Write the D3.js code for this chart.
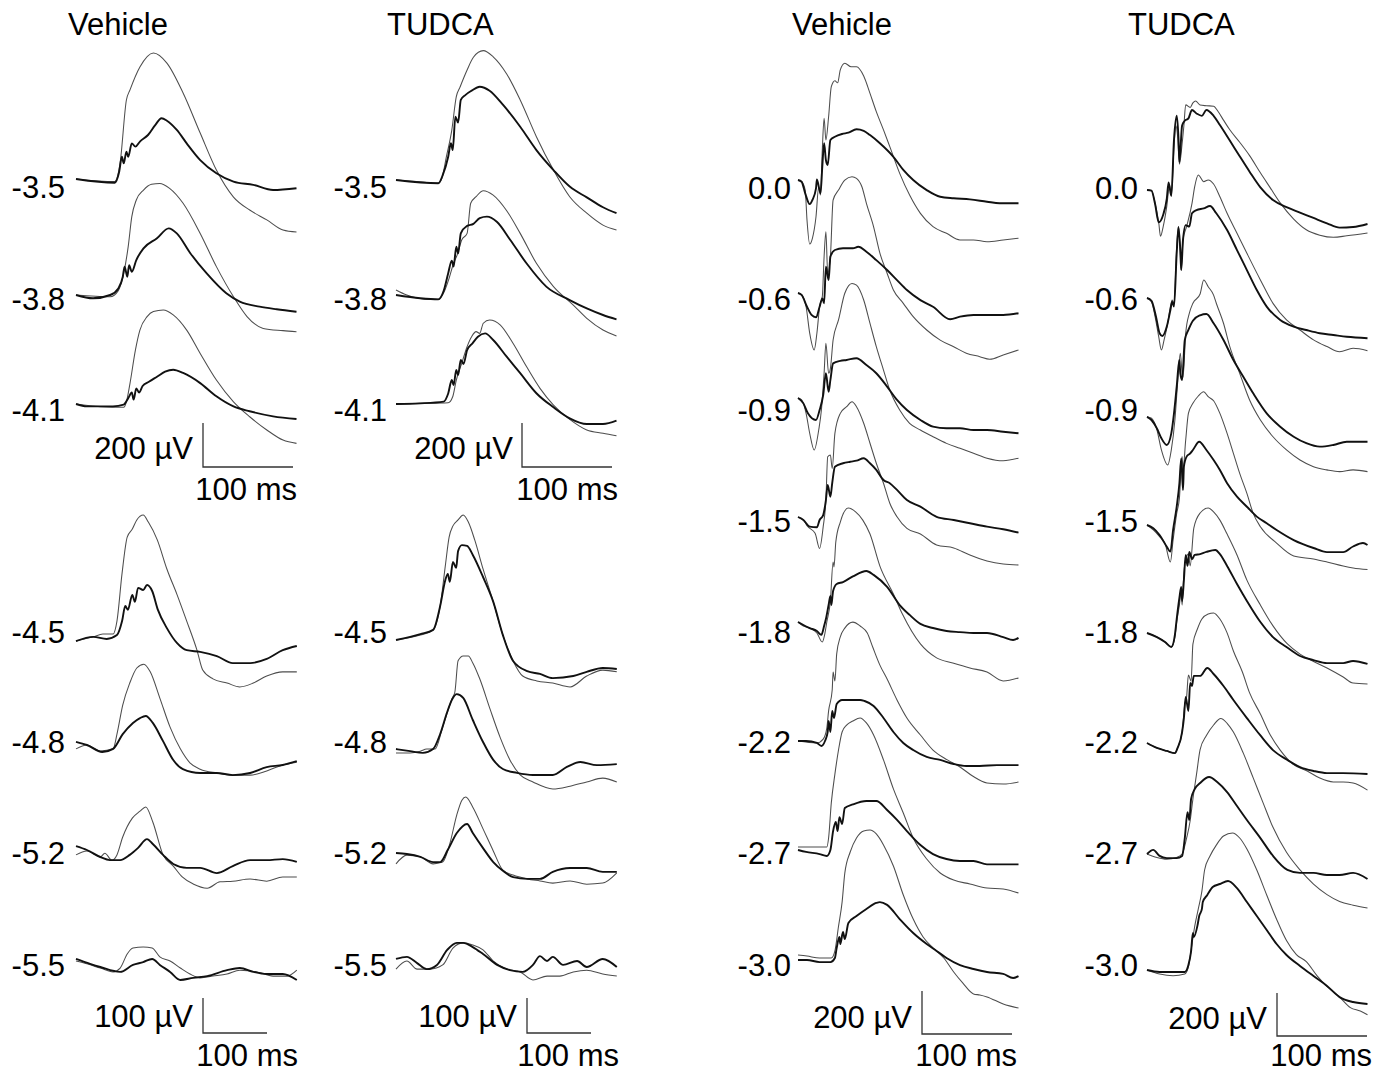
<!DOCTYPE html>
<html><head><meta charset="utf-8">
<script src="https://cdn.jsdelivr.net/npm/d3@7"></script>
<style>body{margin:0;background:#fff}svg{display:block}</style>
</head><body>
<svg id="chart" width="1390" height="1074"></svg>
<script>
// ---------- DATA (time in ms from trace start, amplitude in µV) ----------
const levelsA = ["-3.5","-3.8","-4.1"];
const levelsB = ["-4.5","-4.8","-5.2","-5.5"];
const levelsC = ["0.0","-0.6","-0.9","-1.5","-1.8","-2.2","-2.7","-3.0"];
const titles = ["Vehicle","TUDCA","Vehicle","TUDCA"];

const vehA_thin = [
 [[0,0],[43,-12],[49,73],[56,359],[60,405],[71,509],[86,573],[101,527],[119,391],[138,209],[156,41],[175,-82],[193,-141],[212,-186],[230,-232],[245,-241]],
 [[0,0],[38,-8],[47,20],[53,98],[58,220],[62,356],[67,432],[75,477],[84,503],[93,507],[104,485],[119,417],[138,280],[156,129],[175,-8],[190,-98],[208,-152],[230,-162],[245,-167]],
 [[0,0],[27,-12],[53,-15],[56,10],[60,94],[66,245],[71,336],[79,397],[86,420],[97,427],[108,405],[123,336],[138,230],[156,109],[175,10],[193,-58],[212,-118],[230,-164],[245,-179]]
];
const vehA_thick = [
 [[0,0],[43,-17],[48,33],[51,101],[53,71],[56,124],[58,101],[62,162],[66,147],[71,170],[80,200],[88,245],[95,276],[101,265],[112,223],[123,162],[138,86],[156,26],[175,-12],[197,-27],[219,-50],[245,-42]],
 [[0,0],[19,-15],[38,0],[47,30],[52,83],[54,129],[57,83],[59,136],[62,106],[67,159],[75,212],[90,258],[103,303],[112,280],[127,190],[145,99],[167,8],[182,-30],[204,-53],[223,-65],[245,-76]],
 [[0,0],[12,-11],[41,-11],[53,-3],[58,26],[62,52],[64,20],[67,71],[70,52],[74,82],[81,101],[90,124],[99,147],[108,156],[119,141],[138,95],[156,35],[175,-11],[193,-33],[219,-56],[245,-68]]
];
const tudA_thin = [
 [[0,0],[27,-8],[47,-15],[51,8],[56,106],[62,227],[67,379],[71,421],[79,500],[86,558],[97,588],[108,560],[123,482],[138,364],[156,197],[175,45],[193,-76],[212,-151],[230,-205],[245,-227]],
 [[0,14],[12,-9],[38,-29],[47,-29],[53,1],[59,67],[64,135],[68,173],[73,241],[79,271],[83,408],[89,438],[97,465],[108,445],[123,374],[138,271],[156,135],[175,29],[197,-55],[212,-115],[230,-168],[245,-195]],
 [[0,0],[27,3],[58,6],[63,33],[67,109],[73,185],[79,261],[84,306],[89,329],[93,321],[97,367],[104,382],[116,359],[130,276],[145,170],[160,71],[175,-5],[193,-70],[212,-118],[230,-133],[245,-144]]
];
const tudA_thick = [
 [[0,0],[47,-15],[52,23],[58,106],[61,167],[63,136],[66,288],[69,261],[72,364],[77,386],[84,406],[93,424],[104,406],[119,341],[138,242],[156,136],[175,45],[193,-30],[212,-79],[230,-124],[245,-151]],
 [[0,-9],[27,-24],[47,-29],[53,10],[58,90],[62,147],[64,120],[67,210],[69,180],[72,271],[79,305],[86,314],[93,340],[101,347],[112,324],[127,241],[145,135],[167,29],[193,-32],[212,-70],[230,-100],[245,-120]],
 [[0,0],[27,3],[53,11],[58,48],[62,109],[64,86],[67,155],[69,132],[72,200],[75,182],[79,245],[85,276],[91,306],[99,321],[108,291],[123,215],[138,140],[156,49],[175,-15],[193,-65],[212,-91],[230,-91],[245,-76]]
];

const vehB_thin = [
 [[0,-3],[27,9],[42,17],[58,17],[64,54],[72,191],[80,294],[88,317],[95,343],[105,357],[113,337],[127,286],[142,203],[158,129],[173,54],[189,-29],[198,-86],[214,-111],[236,-123],[256,-134],[277,-123],[298,-103],[323,-91],[345,-91]],
 [[0,-11],[17,0],[38,-17],[58,-11],[64,31],[73,114],[84,177],[95,220],[106,231],[116,209],[131,134],[147,51],[163,-11],[178,-51],[194,-69],[220,-80],[245,-86],[272,-86],[298,-74],[323,-57],[345,-49]],
 [[0,-14],[17,-3],[38,-20],[45,-9],[56,-29],[64,-14],[73,37],[88,91],[100,111],[109,123],[120,80],[136,-14],[152,-46],[166,-77],[183,-97],[205,-109],[225,-91],[245,-89],[272,-83],[298,-89],[323,-77],[345,-77]],
 [[0,-3],[17,-11],[38,-23],[58,-34],[69,-23],[80,17],[89,34],[105,37],[119,34],[131,9],[147,-3],[163,-23],[178,-40],[194,-51],[214,-46],[236,-40],[256,-29],[283,-34],[308,-46],[330,-46],[345,-29]]
];
const vehB_thick = [
 [[0,-3],[27,9],[48,3],[64,14],[72,54],[77,97],[81,86],[88,129],[92,109],[97,149],[105,143],[111,157],[119,140],[128,86],[142,34],[158,-9],[173,-29],[194,-34],[220,-46],[245,-66],[272,-66],[298,-54],[323,-29],[345,-17]],
 [[0,9],[17,0],[41,-20],[58,-11],[73,31],[89,63],[100,77],[109,83],[120,63],[136,11],[152,-43],[167,-69],[194,-80],[220,-80],[245,-86],[272,-80],[298,-63],[323,-57],[345,-46]],
 [[0,11],[17,0],[38,-20],[53,-29],[69,-29],[84,-14],[97,6],[111,31],[120,17],[136,-14],[152,-40],[173,-51],[194,-51],[220,-66],[245,-46],[272,-29],[298,-29],[323,-26],[345,-34]],
 [[0,3],[22,-11],[38,-20],[69,-34],[89,-14],[105,-6],[119,3],[131,-14],[147,-34],[163,-57],[183,-51],[205,-46],[236,-29],[256,-23],[277,-34],[298,-40],[323,-40],[345,-57]]
];
const tudB_thin = [
 [[0,0],[38,14],[58,29],[69,97],[77,211],[83,294],[89,326],[97,343],[105,357],[113,337],[123,286],[136,203],[152,109],[167,14],[183,-60],[198,-103],[220,-117],[245,-123],[272,-134],[298,-103],[323,-86],[345,-91]],
 [[0,-14],[22,-14],[38,-9],[48,-3],[61,-3],[73,60],[88,143],[92,160],[97,249],[105,263],[113,263],[120,243],[131,197],[147,111],[163,29],[178,-34],[194,-77],[214,-97],[245,-117],[272,-109],[298,-97],[323,-86],[345,-97]],
 [[0,-31],[17,-6],[38,-11],[58,-31],[73,-26],[84,26],[95,109],[103,151],[109,160],[120,131],[136,69],[152,6],[167,-49],[183,-63],[205,-74],[225,-80],[245,-86],[272,-80],[298,-89],[323,-86],[345,-57]],
 [[0,-26],[17,-3],[33,-26],[53,-26],[73,-14],[89,34],[105,49],[120,43],[136,29],[152,-3],[173,-26],[194,-34],[214,-57],[236,-46],[256,-46],[277,-34],[298,-29],[323,-40],[345,-46]]
];
const tudB_thick = [
 [[0,0],[38,17],[58,29],[69,97],[77,171],[81,189],[84,166],[89,223],[94,206],[97,254],[103,271],[111,269],[120,243],[136,180],[152,109],[167,14],[183,-60],[205,-89],[225,-97],[245,-109],[277,-103],[298,-91],[323,-80],[345,-83]],
 [[0,-3],[22,-9],[42,-14],[58,-3],[69,40],[80,103],[88,140],[95,154],[105,143],[120,80],[136,17],[152,-34],[167,-60],[189,-71],[214,-77],[245,-77],[267,-54],[288,-40],[314,-49],[345,-46]],
 [[0,0],[17,-3],[38,-11],[58,-26],[69,-26],[81,9],[95,57],[111,83],[120,57],[136,14],[152,-26],[167,-51],[183,-69],[205,-74],[225,-74],[245,-54],[272,-43],[298,-43],[323,-54],[345,-54]],
 [[0,3],[17,9],[33,-9],[48,-26],[64,-14],[80,29],[95,49],[105,49],[120,37],[136,17],[158,-14],[178,-29],[198,-34],[214,-14],[225,11],[236,-3],[245,9],[261,-14],[283,-3],[298,-20],[323,3],[345,-20]]
];

const vehC_thin = [
 [[0,0],[4,-8],[8,-47],[10,-186],[13,-298],[16,-271],[20,-171],[23,-31],[25,-70],[27,140],[29,287],[31,186],[34,294],[37,434],[41,462],[44,452],[47,512],[52,543],[59,527],[65,527],[73,484],[80,403],[87,318],[95,233],[102,155],[113,31],[124,-70],[136,-155],[150,-217],[165,-248],[180,-279],[195,-279],[210,-287],[228,-279],[245,-271]],
 [[0,0],[4,-9],[9,-64],[13,-187],[18,-265],[21,-187],[24,-64],[27,-17],[29,169],[31,285],[33,92],[36,169],[39,432],[45,479],[52,525],[60,541],[65,533],[71,494],[76,417],[84,308],[91,185],[99,92],[106,14],[117,-48],[128,-110],[143,-172],[158,-219],[173,-250],[187,-280],[202,-296],[213,-308],[228,-288],[245,-265]],
 [[0,0],[4,-9],[9,-71],[13,-164],[18,-242],[23,-149],[26,-56],[29,115],[31,254],[34,115],[36,138],[39,270],[45,363],[52,487],[60,533],[65,525],[73,456],[80,347],[87,239],[95,130],[102,37],[113,-56],[124,-118],[136,-149],[150,-180],[165,-211],[180,-234],[195,-257],[210,-280],[228,-292],[245,-280]],
 [[0,0],[6,-14],[11,-45],[19,-76],[24,-146],[28,-45],[31,79],[33,280],[36,288],[38,226],[41,389],[47,482],[54,513],[60,536],[65,513],[73,436],[80,343],[87,250],[95,157],[102,64],[110,1],[121,-53],[136,-79],[154,-130],[173,-144],[191,-177],[210,-205],[228,-219],[245,-223]],
 [[0,0],[6,-19],[13,-28],[21,-51],[27,-93],[30,-51],[32,0],[36,98],[39,279],[40,256],[42,372],[47,465],[56,530],[64,512],[72,474],[80,409],[91,260],[106,130],[116,37],[136,-102],[154,-167],[172,-191],[191,-214],[210,-233],[228,-274],[245,-260]],
 [[0,0],[21,-9],[28,9],[32,60],[34,140],[38,237],[39,321],[41,279],[43,405],[47,484],[52,525],[61,553],[69,535],[77,502],[83,437],[91,353],[99,288],[110,191],[121,107],[136,28],[150,-42],[166,-88],[180,-121],[194,-163],[210,-195],[228,-200],[245,-191]],
 [[0,14],[32,14],[34,56],[37,219],[41,353],[45,465],[49,549],[54,581],[61,600],[69,614],[76,591],[84,535],[95,419],[106,284],[117,172],[128,56],[143,-42],[158,-107],[173,-140],[191,-158],[210,-177],[228,-181],[245,-200]],
 [[0,14],[10,9],[24,0],[37,0],[41,33],[45,147],[49,260],[52,395],[58,493],[65,558],[73,591],[80,595],[87,577],[95,526],[106,428],[117,293],[128,181],[139,98],[150,47],[162,0],[173,-65],[183,-116],[195,-167],[202,-172],[210,-181],[228,-214],[245,-233]]
];
const vehC_thick = [
 [[0,0],[4,-8],[8,-62],[13,-112],[16,-93],[20,-39],[21,3],[25,-62],[27,62],[29,171],[31,93],[33,70],[36,186],[41,201],[49,214],[56,220],[65,236],[73,229],[80,209],[91,171],[106,108],[117,47],[128,0],[143,-47],[158,-78],[173,-85],[191,-90],[210,-101],[224,-108],[245,-108]],
 [[0,0],[4,-9],[10,-64],[15,-102],[20,-113],[24,-64],[27,-25],[29,-48],[31,122],[34,60],[36,169],[41,200],[50,208],[61,208],[67,215],[76,192],[87,153],[99,107],[110,60],[121,14],[136,-33],[150,-64],[169,-122],[180,-110],[195,-102],[210,-102],[228,-102],[245,-94]],
 [[0,0],[6,-25],[11,-71],[20,-102],[24,-56],[28,14],[31,115],[34,29],[36,84],[39,161],[47,173],[54,177],[65,185],[76,153],[87,115],[99,53],[110,-9],[121,-56],[136,-102],[150,-133],[165,-141],[180,-141],[195,-149],[210,-149],[228,-157],[245,-164]],
 [[0,0],[6,-14],[13,-45],[21,-48],[24,-14],[28,9],[31,79],[33,149],[36,94],[38,157],[41,234],[50,250],[58,257],[65,262],[73,273],[80,250],[87,219],[95,172],[102,157],[110,126],[121,79],[136,48],[154,1],[173,-14],[191,-29],[210,-45],[228,-57],[245,-73]],
 [[0,0],[6,-14],[13,-28],[21,-42],[26,-60],[29,-19],[31,14],[34,79],[36,121],[37,79],[39,144],[43,177],[50,186],[61,212],[76,237],[84,219],[99,163],[113,79],[124,33],[136,-9],[150,-28],[165,-42],[180,-47],[195,-51],[210,-51],[228,-70],[239,-84],[245,-74]],
 [[0,0],[9,0],[21,-9],[26,-23],[30,0],[33,42],[34,93],[36,42],[38,140],[40,107],[43,172],[49,191],[58,191],[69,191],[74,186],[84,163],[95,107],[106,42],[117,-9],[128,-42],[143,-74],[158,-88],[173,-107],[187,-116],[202,-116],[221,-112],[245,-112]],
 [[0,0],[9,-9],[24,-19],[32,-28],[36,0],[39,88],[42,130],[44,88],[46,153],[49,121],[52,195],[61,212],[76,228],[87,228],[99,186],[110,140],[121,88],[136,23],[150,-19],[165,-42],[180,-51],[195,-51],[210,-67],[228,-67],[245,-67]],
 [[0,-9],[10,-9],[24,-19],[36,-19],[41,0],[43,47],[46,98],[47,65],[50,121],[52,88],[56,163],[65,195],[76,228],[87,256],[91,260],[99,247],[113,181],[128,116],[143,65],[154,33],[165,0],[180,-33],[195,-51],[210,-65],[228,-74],[239,-93],[245,-84]]
];
const tudC_thin = [
 [[0,0],[5,-3],[9,-62],[13,-150],[15,-215],[18,-170],[22,-75],[25,22],[27,-26],[30,200],[32,300],[34,250],[36,120],[39,215],[41,300],[43,396],[48,384],[51,405],[54,414],[59,395],[66,392],[74,390],[79,365],[85,325],[92,280],[103,222],[114,160],[126,80],[137,10],[148,-60],[163,-135],[177,-185],[192,-210],[207,-220],[222,-213],[245,-200]],
 [[0,0],[5,-17],[9,-87],[13,-180],[16,-242],[19,-195],[23,-118],[26,-40],[28,-9],[30,-25],[33,239],[35,332],[37,208],[38,130],[40,270],[44,332],[50,440],[53,518],[57,572],[63,541],[68,549],[74,530],[81,471],[89,394],[100,301],[111,208],[126,84],[140,-25],[155,-102],[170,-149],[185,-195],[200,-226],[214,-250],[229,-234],[245,-245]],
 [[0,1],[5,-6],[11,-60],[16,-153],[23,-223],[27,-153],[31,-14],[34,157],[37,296],[39,203],[40,185],[43,389],[47,482],[51,529],[59,572],[63,637],[68,606],[74,567],[77,529],[85,436],[92,327],[103,203],[114,79],[126,-14],[140,-92],[155,-153],[170,-200],[185,-231],[200,-246],[214,-254],[229,-246],[245,-254]],
 [[0,0],[7,-23],[14,-54],[20,-85],[26,-172],[29,-70],[33,54],[36,124],[39,318],[40,256],[43,395],[46,519],[51,566],[57,600],[63,620],[68,597],[74,578],[81,519],[89,426],[96,333],[103,240],[111,147],[118,54],[126,-8],[144,-84],[163,-144],[185,-158],[200,-172],[218,-191],[229,-200],[245,-207]],
 [[0,0],[11,-19],[20,-42],[27,-65],[31,-19],[33,51],[36,130],[38,195],[39,130],[41,279],[43,344],[46,367],[48,312],[52,488],[59,558],[68,581],[74,563],[81,525],[89,460],[100,363],[111,246],[126,130],[140,33],[156,-51],[170,-98],[184,-130],[200,-163],[218,-205],[229,-233],[245,-237]],
 [[0,0],[11,-23],[22,-37],[31,-47],[34,-23],[39,51],[42,181],[44,214],[46,316],[49,288],[51,460],[56,530],[61,577],[68,600],[74,605],[81,577],[89,512],[96,428],[106,330],[114,233],[126,135],[137,37],[148,-33],[162,-98],[178,-130],[192,-163],[207,-181],[218,-181],[229,-186],[245,-219]],
 [[0,0],[11,-16],[22,-24],[33,-16],[39,0],[44,74],[48,156],[51,255],[55,370],[59,485],[66,551],[74,600],[82,630],[89,608],[96,567],[107,469],[118,354],[129,238],[140,124],[155,8],[170,-74],[185,-140],[200,-189],[214,-221],[229,-238],[245,-251]],
 [[0,0],[14,-19],[29,-27],[42,-19],[46,14],[50,121],[53,203],[57,284],[61,367],[64,465],[70,530],[77,581],[85,623],[95,637],[103,614],[111,563],[122,465],[133,349],[144,236],[155,137],[166,72],[177,39],[189,-27],[200,-76],[214,-126],[226,-175],[237,-191],[245,-208]]
];
const tudC_thick = [
 [[0,0],[5,-3],[9,-65],[13,-150],[18,-115],[22,-40],[24,35],[27,-28],[30,235],[33,345],[35,240],[36,130],[39,300],[42,322],[46,333],[50,372],[55,356],[61,345],[66,372],[74,345],[81,302],[92,230],[103,157],[114,85],[126,12],[140,-47],[155,-80],[170,-105],[185,-130],[200,-155],[214,-175],[229,-172],[245,-158]],
 [[0,0],[5,-13],[10,-87],[14,-164],[17,-177],[22,-133],[26,-56],[28,-17],[30,-40],[33,208],[35,329],[37,223],[38,130],[40,270],[43,339],[47,332],[50,394],[55,409],[63,417],[70,428],[77,394],[89,316],[100,223],[111,130],[122,37],[133,-40],[148,-102],[163,-133],[177,-149],[192,-164],[207,-172],[222,-180],[245,-187]],
 [[0,1],[5,-14],[11,-53],[16,-99],[22,-130],[27,-76],[30,17],[33,141],[36,265],[37,203],[39,172],[42,358],[46,405],[51,448],[59,473],[66,479],[74,436],[85,358],[96,265],[107,187],[118,110],[133,17],[148,-45],[163,-92],[177,-122],[192,-138],[207,-130],[222,-115],[245,-115]],
 [[0,0],[7,-15],[14,-47],[22,-101],[26,-124],[29,-23],[33,85],[36,194],[38,310],[40,163],[41,271],[44,318],[48,333],[51,349],[58,387],[66,349],[74,302],[81,256],[89,194],[100,132],[111,85],[122,39],[133,8],[144,-23],[163,-70],[185,-107],[200,-126],[218,-126],[229,-100],[240,-84],[245,-93]],
 [[0,0],[11,-19],[20,-42],[27,-65],[31,-9],[33,65],[36,163],[38,214],[39,149],[41,246],[43,363],[45,312],[47,377],[50,344],[53,363],[59,367],[66,377],[76,386],[81,367],[89,312],[100,228],[111,149],[126,51],[140,-19],[155,-65],[170,-107],[185,-126],[200,-140],[218,-140],[229,-130],[245,-144]],
 [[0,0],[11,-23],[22,-37],[31,-47],[34,-23],[39,51],[41,116],[43,214],[46,149],[48,279],[50,265],[52,312],[59,312],[67,349],[74,321],[85,265],[96,200],[111,116],[126,35],[140,-33],[156,-79],[170,-112],[185,-130],[200,-140],[218,-140],[245,-144]],
 [[0,0],[7,19],[14,-9],[22,-19],[33,-19],[39,-9],[42,74],[45,195],[47,158],[49,256],[53,302],[59,330],[69,358],[78,335],[89,288],[100,223],[111,158],[126,74],[140,-9],[156,-74],[170,-88],[185,-88],[200,-98],[214,-98],[229,-88],[245,-116]],
 [[0,0],[14,-9],[29,-9],[42,-9],[46,23],[49,88],[51,172],[52,153],[56,205],[58,251],[61,284],[62,316],[67,349],[73,386],[81,400],[90,414],[100,381],[111,316],[122,251],[133,186],[144,121],[155,70],[170,19],[185,-28],[200,-74],[214,-126],[229,-149],[245,-158]]
];

// scale-bar values
const barA = {uv:200, ms:100};
const barB = {uv:100, ms:100};
const barC = {uv:200, ms:100};

// ---------- LAYOUT ----------
const panels = [
 {x0:76,  tMax:245, w:220.5, pxUV:44/200, levels:levelsA, base:[179,295,404], labY:[198,310,421], labX:65,
  thin:vehA_thin, thick:vehA_thick, bar:barA, bx:203, by:467, uvX:193, uvY:459, msX:297, msY:500},
 {x0:396, tMax:245, w:220.5, pxUV:44/200, levels:levelsA, base:[180,293,404], labY:[198,310,421], labX:387,
  thin:tudA_thin, thick:tudA_thick, bar:barA, bx:522, by:467, uvX:513, uvY:459, msX:618, msY:500},
 {x0:76,  tMax:345, w:220.8, pxUV:35/100, levels:levelsB, base:[640,745,850,960], labY:[643,753,864,976], labX:65,
  thin:vehB_thin, thick:vehB_thick, bar:barB, bx:203, by:1033, uvX:193, uvY:1027, msX:298, msY:1066},
 {x0:396, tMax:345, w:220.8, pxUV:35/100, levels:levelsB, base:[640,748,853,960], labY:[643,753,864,976], labX:387,
  thin:tudB_thin, thick:tudB_thick, bar:barB, bx:527, by:1033, uvX:517, uvY:1027, msX:619, msY:1066},
 {x0:798, tMax:245, w:220.5, pxUV:43/200, levels:levelsC, base:[180,293,398,517,622,741,850,958], labY:[199,310,421,532,643,753,864,976], labX:791,
  thin:vehC_thin, thick:vehC_thick, bar:barC, bx:922, by:1034, uvX:912, uvY:1028, msX:1017, msY:1066},
 {x0:1147,tMax:245, w:220.5, pxUV:43/200, levels:levelsC, base:[190,298,417,525,633,743,854,970], labY:[199,310,421,532,643,753,864,976], labX:1138,
  thin:tudC_thin, thick:tudC_thick, bar:barC, bx:1277, by:1036, uvX:1267, uvY:1029, msX:1372, msY:1066}
];
const titlePos = [[68,35],[387,35],[792,35],[1128,35]];

const svg = d3.select("#chart");
const FONT = "'Liberation Sans', Arial, Helvetica, sans-serif";

svg.selectAll("text.title").data(titles).join("text")
  .attr("class","title")
  .attr("x",(d,i)=>titlePos[i][0]).attr("y",(d,i)=>titlePos[i][1])
  .attr("font-family",FONT).attr("font-size",31).attr("fill","#000")
  .text(d=>d);

panels.forEach(p=>{
  const g = svg.append("g");
  const x = d3.scaleLinear().domain([0,p.tMax]).range([p.x0, p.x0+p.w]);
  const msPx = x(p.bar.ms) - x(0);
  p.levels.forEach((lab,i)=>{
    const y = d3.scaleLinear().domain([0,100]).range([p.base[i], p.base[i]-100*p.pxUV]);
    const line = d3.line().x(d=>x(d[0])).y(d=>y(d[1])).curve(d3.curveMonotoneX);
    g.append("path").attr("d",line(p.thin[i])).attr("fill","none")
      .attr("stroke","#4d4d4d").attr("stroke-width",1.05).attr("stroke-linejoin","round");
    g.append("path").attr("d",line(p.thick[i])).attr("fill","none")
      .attr("stroke","#111").attr("stroke-width",1.9).attr("stroke-linejoin","round");
    g.append("text").attr("x",p.labX).attr("y",p.labY[i]).attr("text-anchor","end")
      .attr("font-family",FONT).attr("font-size",31).attr("fill","#000").text(lab);
  });
  // scale bar
  const ysb = d3.scaleLinear().domain([0,p.bar.uv]).range([p.by, p.by - p.bar.uv*p.pxUV]);
  g.append("path")
    .attr("d",`M${p.bx},${ysb(p.bar.uv)}V${ysb(0)}H${p.bx+msPx}`)
    .attr("fill","none").attr("stroke","#333").attr("stroke-width",1.3);
  g.append("text").attr("x",p.uvX).attr("y",p.uvY).attr("text-anchor","end")
    .attr("font-family",FONT).attr("font-size",31).attr("fill","#000").text(p.bar.uv+" µV");
  g.append("text").attr("x",p.msX).attr("y",p.msY).attr("text-anchor","end")
    .attr("font-family",FONT).attr("font-size",31).attr("fill","#000").text(p.bar.ms+" ms");
});
</script>
</body></html>
